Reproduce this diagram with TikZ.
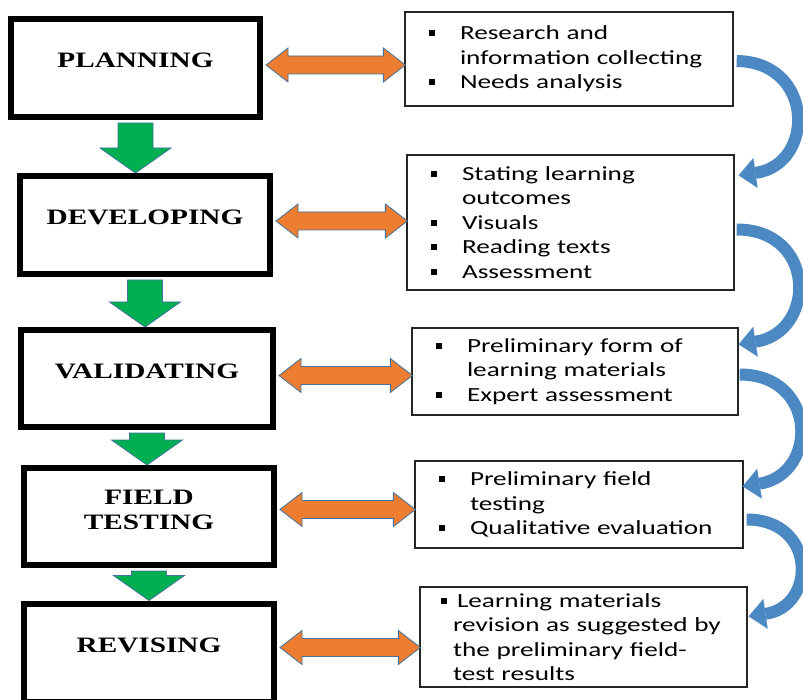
\documentclass[tikz,border=0pt]{standalone}
\usepackage{fontspec}
\newfontfamily\stagefont[FakeStretch=1.33]{Liberation Serif}
\newfontfamily\notefont[FakeStretch=1.36]{Carlito}
\usetikzlibrary{arrows.meta,calc,positioning}

\definecolor{boxorange}{RGB}{237,125,49}
\definecolor{edgeblue}{RGB}{65,113,156}
\definecolor{boxgreen}{RGB}{0,176,80}
\definecolor{curveblue}{RGB}{76,136,194}

% bullets for the note boxes
\newcommand{\blt}{\makebox[55pt][l]{\hspace*{24pt}\rule[3.5pt]{6pt}{6pt}}}
\newcommand{\cnt}{\hspace*{55pt}}
\newcommand{\bltb}{\makebox[37pt][l]{\hspace*{21pt}\rule[3.5pt]{6pt}{6pt}}}
\newcommand{\cntb}{\hspace*{33pt}}

\begin{document}
\begin{tikzpicture}[x=1pt, y=-1pt,
  stage/.style={rectangle, draw=black, line width=6pt, fill=white,
                inner sep=0pt, align=center, text height=15pt, text depth=16pt,
                font=\stagefont\bfseries\fontsize{22}{25}\selectfont},
  note/.style={rectangle, draw=black!85, line width=1.3pt, fill=white,
               inner sep=0pt, align=left,
               font=\notefont\fontsize{20}{24.5}\selectfont},
  twoway/.style={draw=edgeblue, line width=0.8pt, fill=boxorange,
    to path={let \p1=(\tikztostart), \p2=(\tikztotarget) in
      (\x1+3pt,\y1) -- (\x1+25pt,\y1+17pt) -- (\x1+25pt,\y1+9pt)
      -- (\x2-21pt,\y1+9pt) -- (\x2-21pt,\y1+17pt) -- (\x2+1pt,\y1)
      -- (\x2-21pt,\y1-17pt) -- (\x2-21pt,\y1-9pt)
      -- (\x1+25pt,\y1-9pt) -- (\x1+25pt,\y1-17pt) -- cycle}},
  nextstep/.style={draw=edgeblue, line width=0.8pt, fill=boxgreen,
    to path={let \p1=(\tikztostart), \p2=(\tikztotarget) in
      (\x1-17.5pt,\y1-3pt) -- (\x1+17.5pt,\y1-3pt) -- (\x1+17.5pt,\y2+25pt)
      -- (\x1+35.5pt,\y2+25pt) -- (\x1,\y2) -- (\x1-35.5pt,\y2+25pt)
      -- (\x1-17.5pt,\y2+25pt) -- cycle}},
  loopback/.style={-{Triangle[length=17pt,width=30pt,line width=0.1pt]},
                   line width=12pt, curveblue}
]
\useasboundingbox (0,0) rectangle (803,700);

% stages
\node[stage, minimum width=249pt, minimum height=98pt] (plan) at (135.5,68) {PLANNING};
\node[stage, minimum width=250pt, minimum height=98pt] (dev) at (145,225) {DEVELOPING};
\node[stage, minimum width=252pt, minimum height=97pt] (val) at (147,378.5) {VALIDATING};
\node[stage, minimum width=250pt, minimum height=97pt, text height=40pt, text depth=14pt] (field) at (149,516.5) {FIELD\\TESTING};
\node[stage, minimum width=250pt, minimum height=98pt] (rev) at (149,652.5) {REVISING};

% activities
\node[note, text width=328pt, minimum height=94pt] (r1) at (569,59)
  {\blt Research and\\\cnt information collecting\\\blt Needs analysis};
\node[note, text width=327pt, minimum height=135pt] (r2) at (570.5,222.5)
  {\blt Stating learning\\\cnt outcomes\\\blt Visuals\\\blt Reading texts\\\blt Assessment};
\node[note, text width=326pt, minimum height=87pt] (r3) at (575,371.5)
  {\blt Preliminary form of\\\cnt learning materials\\\blt Expert assessment};
\node[note, text width=328pt, minimum height=87pt] (r4) at (579,504.5)
  {\blt Preliminary field\\\cnt testing\\\blt Qualitative evaluation};
\node[note, text width=327pt, minimum height=100pt] (r5) at (583.5,637)
  {\bltb Learning materials\\\cntb revision as suggested by\\\cntb the preliminary field-\\\cntb test results};

% flow down
\draw[nextstep] (plan.south) to (dev.north);
\draw[nextstep] (dev.south) to (val.north);
\draw[nextstep] (val.south) to (field.north);
\draw[nextstep] (field.south) to (rev.north);

% stage <-> activities
\draw[twoway] ($(plan.east)+(0,-3)$) to (r1.west);
\draw[twoway] ($(dev.east)+(0,-4)$) to (r2.west);
\draw[twoway] ($(val.east)+(0,-3)$) to (r3.west);
\draw[twoway] ($(field.east)+(0,-7)$) to (r4.west);
\draw[twoway] ($(rev.east)+(0,-5)$) to (r5.west);

% activities feed the next ones
\draw[loopback] ($(r1.east)+(3,2)$) .. controls +(78,1) and +(77,-11) .. ($(r2.north east)+(4,21)$);
\draw[loopback] ($(r2.east)+(2,7)$) .. controls +(80,0) and +(78,-12) .. ($(r3.north east)+(0,17)$);
\draw[loopback] ($(r3.east)+(1,3)$) .. controls +(78,0) and +(76,-12) .. ($(r4.north east)+(-1,26)$);
\draw[loopback] ($(r4.east)+(3,15)$) .. controls +(70,0) and +(68,-10) .. ($(r5.north east)+(1,30)$);
\end{tikzpicture}
\end{document}
